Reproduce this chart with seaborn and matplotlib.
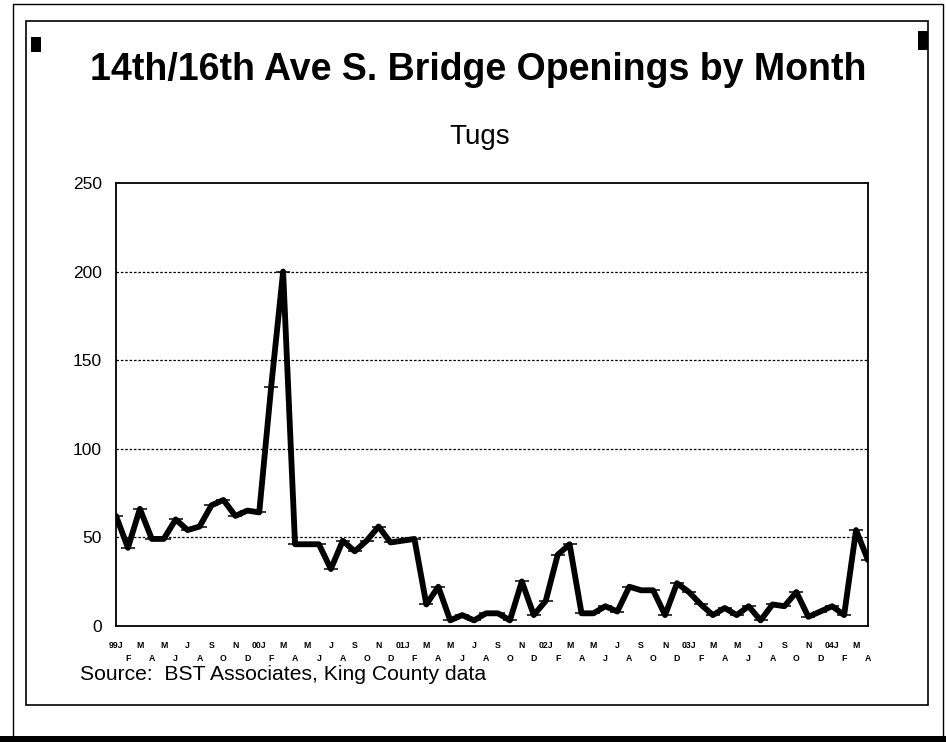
import matplotlib
matplotlib.use("Agg")
import matplotlib.pyplot as plt
import seaborn as sns
import pandas as pd
from matplotlib.patches import Rectangle

# ---- data ----
months = ["J", "F", "M", "A", "M", "J", "J", "A", "S", "O", "N", "D"]
years = ["99", "00", "01", "02", "03", "04"]
openings_1999 = [62, 44, 66, 49, 49, 60, 54, 56, 68, 71, 62, 65]
openings_2000 = [64, 135, 200, 46, 46, 46, 32, 48, 42, 48, 56, 47]
openings_2001 = [48, 49, 12, 22, 3, 6, 3, 7, 7, 3, 25, 6]
openings_2002 = [14, 40, 46, 7, 7, 11, 8, 22, 20, 20, 6, 24]
openings_2003 = [19, 12, 6, 10, 6, 11, 3, 12, 11, 19, 5, 8]
openings_2004 = [11, 6, 54, 37]
y_ticks = [0, 50, 100, 150, 200, 250]

values = (openings_1999 + openings_2000 + openings_2001 +
          openings_2002 + openings_2003 + openings_2004)
labels = []
for yi, yr in enumerate(years):
    for mi, m in enumerate(months):
        if len(labels) >= len(values):
            break
        labels.append((yr + m) if mi == 0 else m)
df = pd.DataFrame({"idx": range(len(values)), "tugs": values})

sns.set_theme(style="white")
plt.rcParams["font.family"] = ["Liberation Sans", "DejaVu Sans"]
plt.rcParams["text.color"] = "black"
plt.rcParams["xtick.color"] = "black"
plt.rcParams["ytick.color"] = "black"
plt.rcParams["axes.labelcolor"] = "black"

fig = plt.figure(figsize=(9.46, 7.42), dpi=100)
ax = fig.add_axes([116 / 946, 1 - 625.7 / 742, (868 - 116) / 946, (625.7 - 183) / 742])

sns.lineplot(data=df, x="idx", y="tugs", ax=ax, color="black", linewidth=4.2,
             marker="_", markersize=10, markeredgewidth=1.1, markeredgecolor="black")

ax.set_xlim(0, len(values) - 1)
ax.set_ylim(0, 250)
ax.set_yticks(y_ticks)
ax.set_yticklabels([str(v) for v in y_ticks], fontsize=12.5, color="black")
for v in y_ticks[1:-1]:
    ax.axhline(v, color="black", linewidth=0.9, linestyle=(0, (2, 1.5)), zorder=0)

ax.set_xticks(range(len(values)))
xt = [lab if i % 2 == 0 else "\n" + lab for i, lab in enumerate(labels)]
ax.set_xticklabels(xt, fontsize=6.3, fontweight="bold", linespacing=1.6, color="black")
ax.tick_params(axis="both", length=0)
ax.tick_params(axis="y", pad=10)
ax.tick_params(axis="x", pad=11)
ax.set_xlabel("")
ax.set_ylabel("")
for s in ax.spines.values():
    s.set_visible(True)
    s.set_color("black")
    s.set_linewidth(1.3)

# titles and source
fig.text(478 / 946, 1 - 70 / 742, "14th/16th Ave S. Bridge Openings by Month",
         ha="center", va="center", fontsize=27, fontweight="bold", color="black")
fig.text(480 / 946, 1 - 137 / 742, "Tugs", ha="center", va="center", fontsize=20,
         color="black")
fig.text(80 / 946, 1 - 675 / 742, "Source:  BST Associates, King County data",
         ha="left", va="center", fontsize=15.2, color="black")

# frame decorations
def rect(x0, y0, x1, y1, **kw):
    fig.patches.append(Rectangle((x0 / 946, 1 - y1 / 742), (x1 - x0) / 946, (y1 - y0) / 742,
                                 transform=fig.transFigure, **kw))

rect(13, 4, 943, 737, fill=False, edgecolor="black", linewidth=1.0)
rect(26, 21, 928, 705, fill=False, edgecolor="black", linewidth=1.2)
rect(0, 736, 946, 742, facecolor="black", edgecolor="none")
rect(31, 37, 41, 52, facecolor="black", edgecolor="none")
rect(918, 31, 928, 50, facecolor="black", edgecolor="none")

fig.savefig("out.png", dpi=100)
